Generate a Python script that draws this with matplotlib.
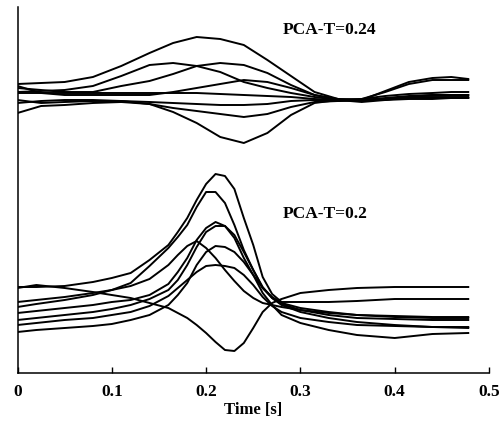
import matplotlib
matplotlib.use("Agg")
import matplotlib.pyplot as plt
import numpy as np

# ---- data (vertical values read in display units, increasing downward) ----
t_top = [0, 0.025, 0.05, 0.08, 0.11, 0.14, 0.165, 0.19, 0.215, 0.24, 0.265,
         0.29, 0.315, 0.34, 0.365, 0.39, 0.415, 0.44, 0.46, 0.478]
top_curves = [
    [84, 83, 82, 77, 66, 53, 43, 37, 39, 45, 60, 76, 92, 99, 100, 91, 82, 78, 77, 79],
    [92, 91, 90, 86, 76, 65, 63, 66, 72, 82, 88, 93, 97, 100, 100, 98, 96, 95, 95, 95],
    [88, 90, 92, 92, 86, 81, 74, 66, 63, 65, 73, 85, 95, 100, 99, 92, 84, 80, 80, 80],
    [86, 93, 95, 95, 95, 95, 92, 88, 84, 80, 82, 88, 95, 99, 100, 99, 97, 97, 97, 97],
    [93, 93, 93, 93, 93, 93, 93, 93, 94, 95, 96, 97, 99, 100, 99, 96, 94, 93, 92, 92],
    [103, 101, 100, 100, 101, 102, 103, 104, 105, 105, 104, 101, 100, 101, 100, 99, 98, 98, 98, 98],
    [100, 103, 102, 101, 101, 104, 108, 111, 114, 117, 114, 107, 102, 101, 100, 100, 99, 99, 98, 98],
    [113, 106, 105, 103, 102, 104, 112, 123, 137, 143, 133, 115, 103, 100, 102, 100, 97, 95, 95, 95],
]

t_bot = [0, 0.02, 0.05, 0.08, 0.10, 0.12, 0.14, 0.16, 0.17, 0.18, 0.19, 0.20,
         0.21, 0.22, 0.23, 0.24, 0.25, 0.26, 0.27, 0.28, 0.30, 0.33, 0.36,
         0.40, 0.44, 0.478]
bot_curves = [
    [288, 285, 288, 292, 295, 298, 303, 308, 313, 318, 325, 333, 342, 350, 351, 343, 328, 312, 303, 299, 293, 290, 288, 287, 287, 287],
    [287, 287, 286, 282, 278, 273, 260, 245, 232, 218, 200, 184, 174, 176, 189, 218, 245, 277, 294, 302, 302, 302, 301, 299, 299, 299],
    [302, 300, 297, 293, 290, 286, 279, 265, 255, 246, 241, 248, 258, 270, 281, 291, 298, 303, 305, 307, 310, 313, 315, 316, 317, 317],
    [307, 304, 300, 295, 290, 283, 266, 248, 237, 225, 207, 192, 192, 203, 225, 250, 270, 288, 297, 303, 308, 312, 315, 317, 318, 318],
    [313, 311, 308, 305, 302, 300, 295, 284, 272, 258, 240, 228, 222, 226, 238, 258, 275, 288, 298, 304, 310, 315, 318, 319, 320, 320],
    [320, 318, 315, 312, 309, 305, 299, 290, 280, 265, 247, 232, 226, 226, 235, 252, 270, 287, 298, 305, 312, 318, 322, 325, 327, 327],
    [325, 323, 320, 318, 315, 312, 306, 296, 288, 280, 272, 266, 265, 266, 268, 275, 285, 297, 306, 312, 318, 322, 325, 326, 327, 328],
    [332, 330, 328, 326, 324, 320, 315, 305, 295, 283, 265, 252, 246, 247, 252, 262, 275, 293, 305, 315, 323, 330, 335, 338, 334, 333],
]

xticks = [0, 0.1, 0.2, 0.3, 0.4, 0.5]
xtick_labels = ["0", "0.1", "0.2", "0.3", "0.4", "0.5"]
label_top = "PCA-T=0.24"
label_bot = "PCA-T=0.2"

# ---- figure ----
plt.rcParams['font.family'] = ['Liberation Serif', 'DejaVu Serif']
fig = plt.figure(figsize=(5.03, 4.28), dpi=100)
ax = fig.add_axes([17.5 / 503, (428 - 373) / 428, (489 - 17.5) / 503, (373 - 7) / 428])

for ys in top_curves:
    ax.plot(t_top, ys, color='black', lw=1.4, solid_joinstyle='round')
for ys in bot_curves:
    ax.plot(t_bot, ys, color='black', lw=1.4, solid_joinstyle='round')

ax.set_xlim(0, 0.5)
ax.set_ylim(373, 7)

ax.text(0.2816, 30, label_top, ha='left', va='center', fontsize=12.5, fontweight='bold')
ax.text(0.2816, 214, label_bot, ha='left', va='center', fontsize=12.5, fontweight='bold')

ax.spines['top'].set_visible(False)
ax.spines['right'].set_visible(False)
ax.spines['left'].set_linewidth(1.1)
ax.spines['bottom'].set_linewidth(1.1)
ax.set_yticks([])
ax.set_xticks(xticks)
ax.set_xticklabels(xtick_labels, fontweight='bold', fontsize=12.5)
ax.tick_params(axis='x', direction='in', length=4.5, width=1.0, pad=8)
ax.set_xlabel("Time [s]", fontweight='bold', fontsize=12, labelpad=1)

fig.savefig("out.png", dpi=100)
